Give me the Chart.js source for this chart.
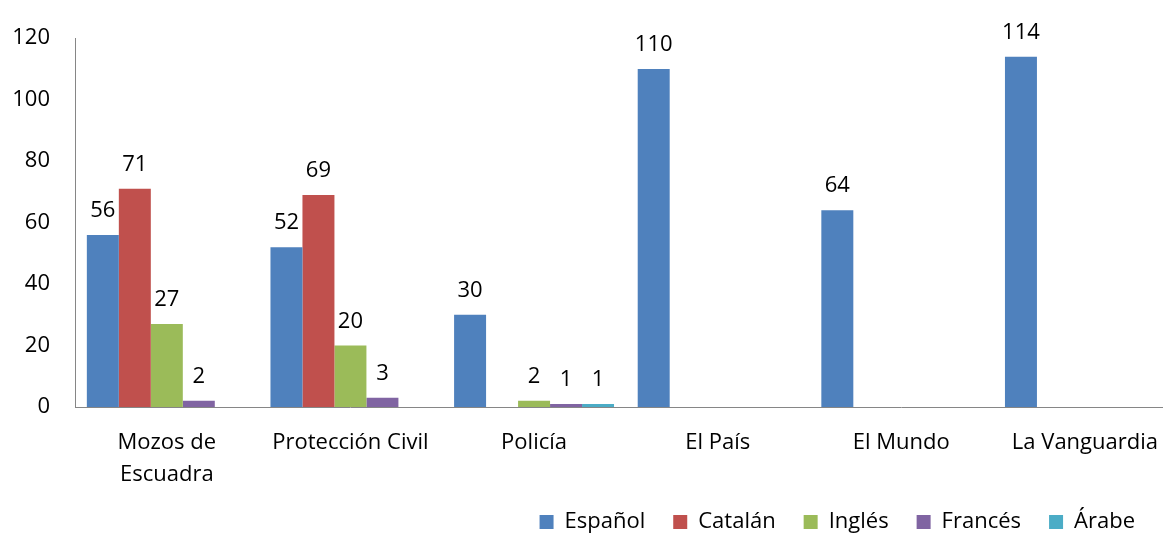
<!DOCTYPE html>
<html>
<head>
<meta charset="utf-8">
<script src="https://cdn.jsdelivr.net/npm/chart.js@4/dist/chart.umd.min.js"></script>
<style>
  html, body { margin: 0; padding: 0; background: #fff; }
  #wrap { width: 1163px; height: 534px; overflow: hidden; }
</style>
</head>
<body>
<div id="wrap">
  <canvas id="chart-area" width="1178" height="543"></canvas>
</div>
<script>
  'use strict';

  var categories = [['Mozos de', 'Escuadra'], 'Protección Civil', 'Policía', 'El País', 'El Mundo', 'La Vanguardia'];
  var seriesNames = ['Español', 'Catalán', 'Inglés', 'Francés', 'Árabe'];
  var espanol = [56, 52, 30, 110, 64, 114];
  var catalan = [71, 69, null, null, null, null];
  var ingles = [27, 20, 2, null, null, null];
  var frances = [2, 3, 1, null, null, null];
  var arabe = [null, null, 1, null, null, null];
  var yTicks = [0, 20, 40, 60, 80, 100, 120];

  var colors = ['#4F81BD', '#C0504D', '#9BBB59', '#8064A2', '#4BACC6'];
  var values = [espanol, catalan, ingles, frances, arabe];

  Chart.defaults.font.family = "'Open Sans', 'DejaVu Sans', sans-serif";
  Chart.defaults.font.size = 22;
  Chart.defaults.color = '#000';

  // value labels above each bar (no datalabels plugin offline)
  var barValues = {
      id: 'barValues',
      afterDatasetsDraw: function (chart) {
          var ctx = chart.ctx;
          ctx.save();
          ctx.font = "22px 'Open Sans', 'DejaVu Sans', sans-serif";
          ctx.fillStyle = '#000';
          ctx.textAlign = 'center';
          ctx.textBaseline = 'alphabetic';
          chart.data.datasets.forEach(function (ds, i) {
              chart.getDatasetMeta(i).data.forEach(function (bar, j) {
                  if (ds.data[j] === null) {
                      return;
                  }
                  ctx.fillText(String(ds.data[j]), bar.x, bar.y - 18);
              });
          });
          ctx.restore();
      }
  };

  // the plot runs past the right edge of the picture, the legend does not
  var legendRight = {
      id: 'legendRight',
      afterLayout: function (chart) {
          if (chart.legend) {
              chart.legend.right = 1163;
          }
      }
  };

  var ctx = document.getElementById('chart-area').getContext('2d');
  window.myBars = new Chart(ctx, {
      type: 'bar',
      data: {
          labels: categories,
          datasets: seriesNames.map(function (name, i) {
              return {
                  label: name,
                  data: values[i],
                  backgroundColor: colors[i],
                  borderWidth: 0,
                  categoryPercentage: 0.871,
                  barPercentage: 1
              };
          })
      },
      options: {
          responsive: false,
          animation: false,
          layout: {
              padding: {top: 35, left: 0, right: 0, bottom: 0}
          },
          plugins: {
              tooltip: {enabled: false},
              legend: {
                  position: 'bottom',
                  align: 'end',
                  labels: {
                      boxWidth: 14,
                      boxHeight: 14,
                      padding: 28,
                      color: '#000'
                  }
              }
          },
          scales: {
              x: {
                  grid: {display: false, drawTicks: false},
                  border: {display: true, color: '#868686', width: 1},
                  ticks: {padding: 20, maxRotation: 0, autoSkip: false, font: {lineHeight: 32 / 22}},
                  afterFit: function (scale) {
                      scale.height = 76;
                  }
              },
              y: {
                  min: 0,
                  max: 120,
                  grid: {display: false, drawTicks: false},
                  border: {display: true, color: '#868686', width: 1},
                  afterBuildTicks: function (scale) {
                      scale.ticks = yTicks.map(function (v) { return {value: v}; });
                  },
                  ticks: {padding: 25},
                  afterFit: function (scale) {
                      scale.width = 75;
                  }
              }
          }
      },
      plugins: [barValues, legendRight]
  });
</script>
</body>
</html>
